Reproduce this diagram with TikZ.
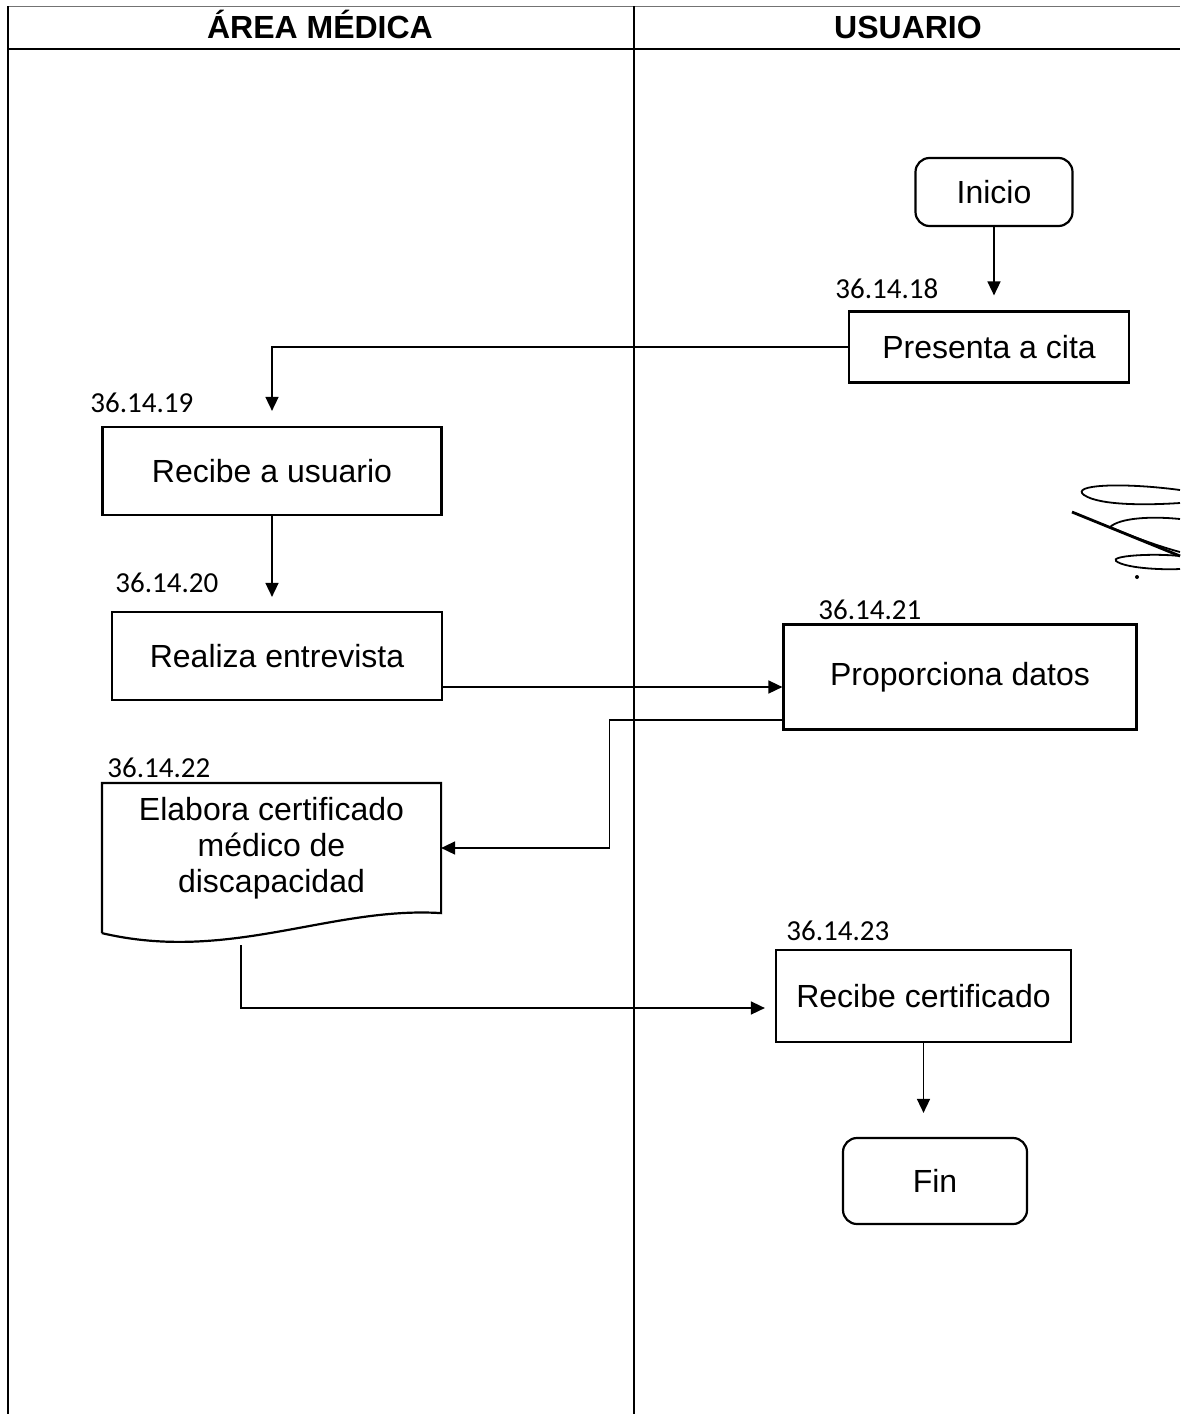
\documentclass[tikz,border=0pt]{standalone}
\usepackage{fontspec}
\setmainfont{Liberation Sans}
\newfontfamily\numfont{Carlito}
\usetikzlibrary{arrows.meta, calc}

\begin{document}
\begin{tikzpicture}[x=0.5pt, y=-0.5pt,
    proc/.style={draw, line width=1.1pt, font=\fontsize{16}{19}\selectfont,
                 align=center, inner sep=0pt},
    term/.style={proc, rounded corners=7pt},
    num/.style={anchor=base west, inner sep=0pt,
                font=\numfont\fontsize{14.5}{17}\selectfont},
    lanehead/.style={anchor=base, font=\fontsize{16}{19}\selectfont\bfseries},
    arr/.style={-{Triangle[length=7pt, width=6.5pt]}, line width=0.8pt},
    lane/.style={line width=0.7pt}
  ]
    \useasboundingbox (0,0) rectangle (1180,1414);
    % swimlanes
    \draw[lane, black!55, line width=0.4pt] (8,6) -- (1180,6);
    \draw[lane] (8,6) -- (8,1414);
    \draw[lane] (634,6) -- (634,1414);
    \draw[line width=1.2pt] (8,49) -- (1180,49);
    \node[lanehead] (hmed) at (320,38) {ÁREA MÉDICA};
    \node[lanehead] (husr) at (908,38) {USUARIO};

    % steps
    \node[term, minimum width=78.5pt, minimum height=34pt] (ini) at (994,192) {Inicio};
    \node[proc, minimum width=140pt, minimum height=35.5pt] (pres) at (989,347) {Presenta a cita};
    \node[proc, minimum width=169.5pt, minimum height=44pt] (rec1) at (272,471) {Recibe a usuario};
    \node[proc, minimum width=165pt, minimum height=44pt] (real) at (277,656) {Realiza entrevista};
    \node[proc, minimum width=176.5pt, minimum height=52.5pt] (prop) at (960,677) {Proporciona datos};
    \node[proc, draw=none, font=\fontsize{16}{18}\selectfont,
          minimum width=168.5pt, minimum height=64pt] (elab) at (271.5,848)
      {Elabora certificado\\médico de\\discapacidad};
    \draw[line width=1.1pt] ($(elab.south west)+(0,20)$) -- (elab.north west)
      -- (elab.north east) -- (elab.south east)
      .. controls +(-110,-7) and +(127,30) .. ($(elab.south west)+(0,20)$);
    \node[proc, minimum width=147.5pt, minimum height=46pt] (rcert) at (923.5,996) {Recibe certificado};
    \node[term, minimum width=92pt, minimum height=43pt] (fin) at (935,1181) {Fin};

    \node[num] (n18) at (835,298) {36.14.18};
    \node[num] (n19) at (90,412) {36.14.19};
    \node[num] (n20) at (115,592) {36.14.20};
    \node[num] (n21) at (818,619) {36.14.21};
    \node[num] (n22) at (107,777) {36.14.22};
    \node[num] (n23) at (786,940) {36.14.23};

    % flow
    \draw[arr, shorten >=7.5pt] (ini.south) -- (ini.south |- pres.north);
    \draw[arr, shorten >=7.5pt] (pres.west) -| (rec1.north);
    \draw[arr, shorten >=7pt] (rec1.south) -- (rec1.south |- real.north);
    \coordinate (a1) at ($(real.east)+(0,31)$);
    \draw[arr] (a1) -- (a1 -| prop.west);
    \coordinate (b1) at ($(prop.west)+(0,43)$);
    \draw[arr] (b1) -- ++(-173,0) |- (elab.east);
    \coordinate (c1) at (241,945);
    \draw[arr, shorten >=5pt] (c1) |- ($(rcert.west)+(0,12)$);
    \draw[arr, shorten >=12pt] (rcert.south) -- (rcert.south |- fin.north);

    % signature
    \draw[line width=0.9pt] (1180,490) .. controls (1120,482) and (1070,485) .. (1084,495)
      .. controls (1100,506) and (1150,505) .. (1180,503);
    \draw[line width=1.4pt] (1072,512) -- (1180,556);
    \draw[line width=0.9pt] (1180,519) .. controls (1150,516) and (1120,518) .. (1110,527)
      .. controls (1140,540) and (1165,548) .. (1180,552);
    \draw[line width=0.9pt] (1180,556) .. controls (1150,553) and (1110,556) .. (1116,561)
      .. controls (1125,568) and (1160,570) .. (1180,569);
    \fill (1137,577) circle (1pt);
\end{tikzpicture}
\end{document}
